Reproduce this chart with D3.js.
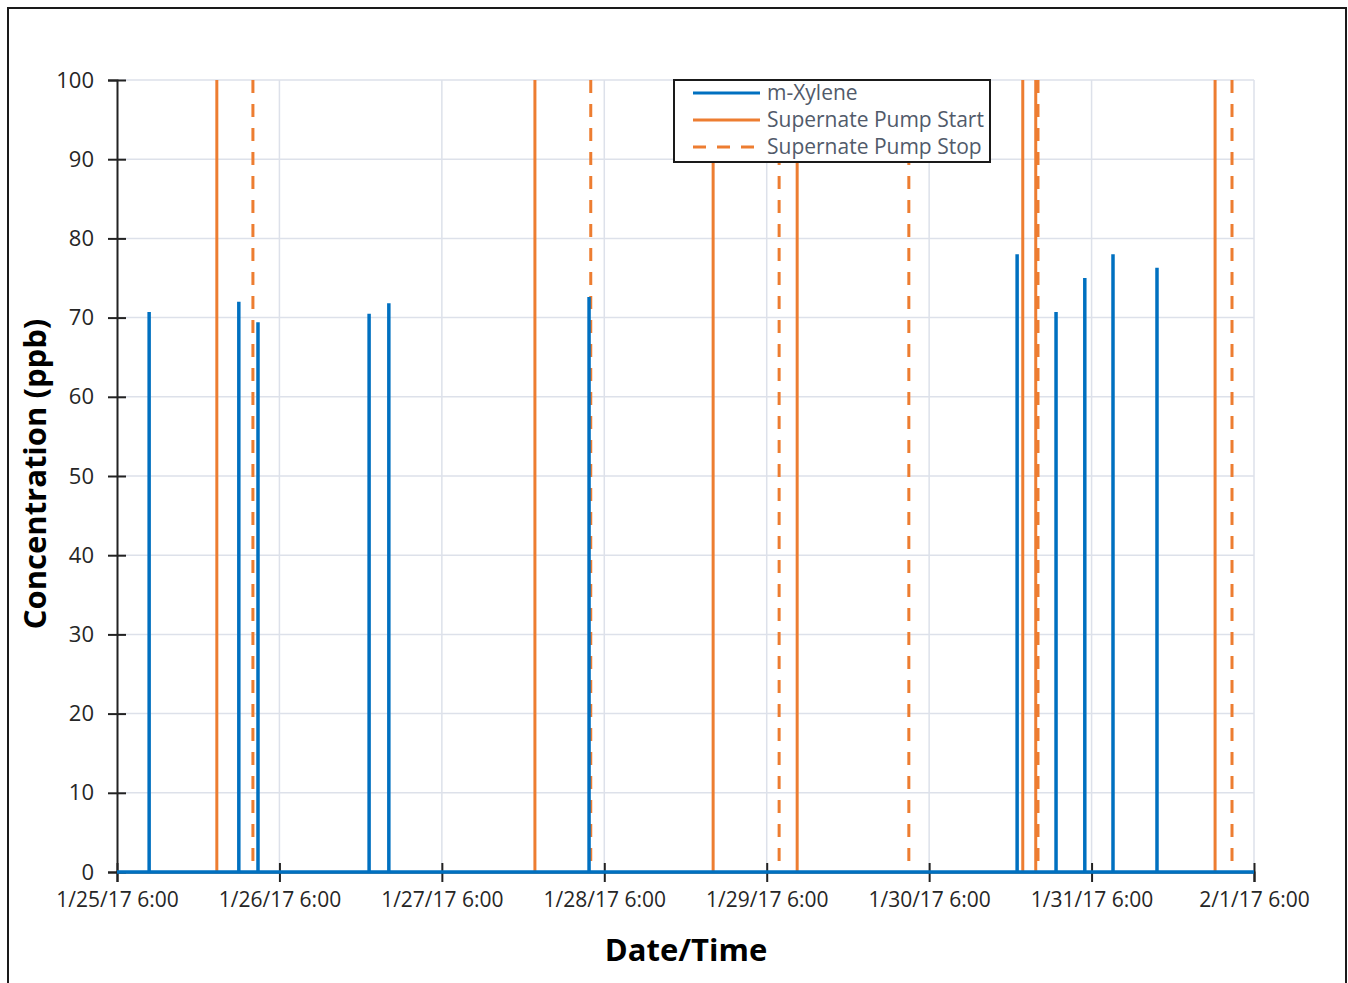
<!DOCTYPE html>
<html>
<head>
<meta charset="utf-8">
<script src="https://cdn.jsdelivr.net/npm/d3@7"></script>
<style>
  body { margin: 0; background: #fff; }
  svg text { font-family: "Open Sans", "Noto Sans", sans-serif; }
</style>
</head>
<body>
<svg id="chart" width="1348" height="983"></svg>
<script>
// m-Xylene detections (spikes from a zero baseline)
const xyleneTimes = ['2017-01-25 10:45', '2017-01-26 00:00', '2017-01-26 02:50', '2017-01-26 19:15',
    '2017-01-26 22:10', '2017-01-28 03:45', '2017-01-30 19:00', '2017-01-31 00:45',
    '2017-01-31 05:00', '2017-01-31 09:10', '2017-01-31 15:40'];
const xyleneValues = [70.7, 72.0, 69.4, 70.5, 71.8, 72.6, 78.0, 70.7, 75.0, 78.0, 76.3];

const pumpStart = ['2017-01-25 20:45', '2017-01-27 19:45', '2017-01-28 22:05', '2017-01-29 10:30',
    '2017-01-30 19:50', '2017-01-30 21:45', '2017-02-01 00:15'];
const pumpStop = ['2017-01-26 02:05', '2017-01-28 04:00', '2017-01-29 07:50', '2017-01-30 03:00',
    '2017-01-30 22:05', '2017-02-01 02:45'];

const xTicks = ['2017-01-25 06:00', '2017-01-26 06:00', '2017-01-27 06:00', '2017-01-28 06:00',
    '2017-01-29 06:00', '2017-01-30 06:00', '2017-01-31 06:00', '2017-02-01 06:00'];
const yTicks = [0, 10, 20, 30, 40, 50, 60, 70, 80, 90, 100];

const BLUE = '#0070c0', ORANGE = '#ed7d31', GRID = '#dde1ea';

const parse = d3.utcParse('%Y-%m-%d %H:%M');
const fmt = d3.utcFormat('%-m/%-d/%y %-H:%M');

const svg = d3.select('svg#chart');
const margin = {left: 117, right: 94, top: 80, bottom: 111};
const W = 1348, H = 983;

const xTickVals = xTicks.map(parse);
const x = d3.scaleUtc()
    .domain(d3.extent(xTickVals))
    .range([margin.left, W - margin.right]);
const y = d3.scaleLinear()
    .domain([0, 100])
    .range([H - margin.bottom, margin.top]);

// outer frame
svg.append('rect')
    .attr('x', 8).attr('y', 8)
    .attr('width', 1338).attr('height', 990)
    .attr('fill', '#fff').attr('stroke', '#1a1a1a').attr('stroke-width', 2);

// grid
svg.append('g').selectAll('line')
    .data(yTicks.slice(1))
    .join('line')
    .attr('x1', margin.left).attr('x2', W - margin.right)
    .attr('y1', d => y(d)).attr('y2', d => y(d))
    .attr('stroke', GRID).attr('stroke-width', 1.5);
svg.append('g').selectAll('line')
    .data(xTickVals.slice(1))
    .join('line')
    .attr('x1', d => x(d)).attr('x2', d => x(d))
    .attr('y1', y(0)).attr('y2', y(100))
    .attr('stroke', GRID).attr('stroke-width', 1.5);

// axes
const yAxis = svg.append('g')
    .attr('transform', `translate(${margin.left},0)`)
    .call(d3.axisLeft(y).tickValues(yTicks).tickSize(9).tickPadding(14));
yAxis.selectAll('.tick line').attr('x1', 9);
yAxis.selectAll('.tick text').style('font-size', '22px');
const xAxis = svg.append('g')
    .attr('transform', `translate(0,${y(0)})`)
    .call(d3.axisBottom(x).tickValues(xTickVals).tickFormat(fmt).tickSize(10).tickPadding(10));
xAxis.selectAll('.tick line').attr('y1', -9);
xAxis.selectAll('.tick text').style('font-size', '21px');
[yAxis, xAxis].forEach(a => {
    a.select('.domain').attr('stroke', '#222').attr('stroke-width', 2);
    a.selectAll('.tick line').attr('stroke', '#222').attr('stroke-width', 2);
    a.selectAll('.tick text').attr('fill', '#262626');
});

// pump lines (drawn top-down so dashes start at the top edge)
svg.append('g').selectAll('line')
    .data(pumpStart.map(parse))
    .join('line')
    .attr('x1', d => x(d)).attr('x2', d => x(d))
    .attr('y1', y(100)).attr('y2', y(0))
    .attr('stroke', ORANGE).attr('stroke-width', 3);
svg.append('g').selectAll('line')
    .data(pumpStop.map(parse))
    .join('line')
    .attr('x1', d => x(d)).attr('x2', d => x(d))
    .attr('y1', y(100)).attr('y2', y(0))
    .attr('stroke', ORANGE).attr('stroke-width', 3)
    .attr('stroke-dasharray', '13,11');

// m-Xylene series: baseline plus vertical spikes
const spikes = xyleneTimes.map((t, i) => ({t: parse(t), v: xyleneValues[i]}));
svg.append('line')
    .attr('x1', x.range()[0]).attr('x2', x.range()[1])
    .attr('y1', y(0)).attr('y2', y(0))
    .attr('stroke', BLUE).attr('stroke-width', 3.5);
svg.append('g').selectAll('line')
    .data(spikes)
    .join('line')
    .attr('x1', d => x(d.t)).attr('x2', d => x(d.t))
    .attr('y1', y(0)).attr('y2', d => y(d.v))
    .attr('stroke', BLUE).attr('stroke-width', 3.5);

// axis titles
svg.append('text')
    .attr('x', 686).attr('y', 961)
    .attr('text-anchor', 'middle')
    .style('font-size', '31px').style('font-weight', 'bold')
    .attr('fill', '#000')
    .text('Date/Time');
svg.append('text')
    .attr('transform', 'translate(46,474) rotate(-90)')
    .attr('text-anchor', 'middle')
    .style('font-size', '31px').style('font-weight', 'bold')
    .attr('fill', '#000')
    .text('Concentration (ppb)');

// legend
const legendItems = [
    {label: 'm-Xylene', color: BLUE, dash: null},
    {label: 'Supernate Pump Start', color: ORANGE, dash: null},
    {label: 'Supernate Pump Stop', color: ORANGE, dash: '13,11'}
];
const lg = svg.append('g').attr('transform', 'translate(674,80)');
lg.append('rect')
    .attr('width', 316).attr('height', 82)
    .attr('fill', '#fff').attr('stroke', '#1a1a1a').attr('stroke-width', 2);
const row = lg.selectAll('g.item')
    .data(legendItems)
    .join('g')
    .attr('transform', (d, i) => `translate(0,${13 + i * 27})`);
row.append('line')
    .attr('x1', 19).attr('x2', 86)
    .attr('stroke', d => d.color).attr('stroke-width', 3)
    .attr('stroke-dasharray', d => d.dash);
row.append('text')
    .attr('x', 93).attr('y', 7)
    .attr('fill', '#515a6a')
    .style('font-size', '21px')
    .text(d => d.label);
</script>
</body>
</html>
